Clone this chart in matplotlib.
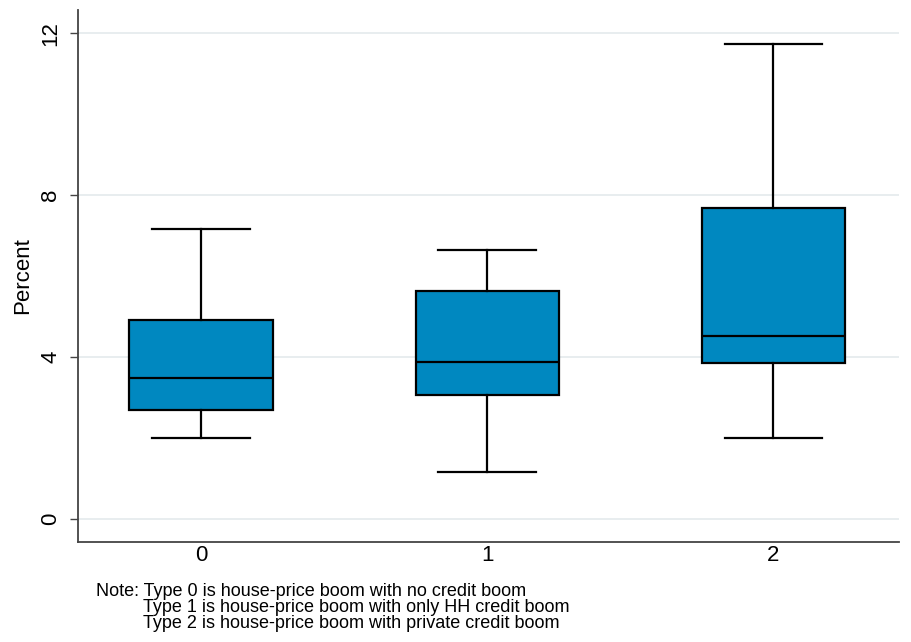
import matplotlib.pyplot as plt

plt.rcParams['font.family'] = ['Liberation Sans', 'DejaVu Sans']

# box statistics per boom type (percent)
types = ['0', '1', '2']
whislo = [2.01, 1.15, 1.99]
q1 = [2.69, 3.06, 3.84]
med = [3.48, 3.88, 4.52]
q3 = [4.91, 5.64, 7.67]
whishi = [7.16, 6.64, 11.73]
y_ticks = [0, 4, 8, 12]
note_lines = [
    "Note: Type 0 is house-price boom with no credit boom",
    "Type 1 is house-price boom with only HH credit boom",
    "Type 2 is house-price boom with private credit boom",
]

stats = []
for i, t in enumerate(types):
    stats.append({'label': t, 'whislo': whislo[i], 'q1': q1[i], 'med': med[i],
                  'q3': q3[i], 'whishi': whishi[i], 'fliers': []})

fig = plt.figure(figsize=(9.11, 6.42), dpi=100)
ax = fig.add_axes([78 / 911, 1 - 542 / 642, (899 - 78) / 911, (542 - 10) / 642])

ax.bxp(stats, positions=range(len(types)), widths=0.5, patch_artist=True,
       boxprops=dict(facecolor='#0088C0', edgecolor='black', linewidth=1.6),
       medianprops=dict(color='black', linewidth=1.6),
       whiskerprops=dict(color='black', linewidth=1.6),
       capprops=dict(color='black', linewidth=1.6),
       capwidths=0.34, showfliers=False)

ax.set_xlim(-0.43, 2.44)
ax.set_ylim(-0.57, 12.57)
ax.set_yticks(y_ticks)
ax.set_yticklabels([str(v) for v in y_ticks], rotation=90, va='center', fontsize=16)
ax.set_xticks(range(len(types)))
ax.set_xticklabels(types, fontsize=16)
ax.tick_params(axis='x', length=0, pad=2)
ax.tick_params(axis='y', length=6, width=1, color='#444444', pad=6)
ax.set_ylabel("Percent", fontsize=16, labelpad=5)

ax.grid(axis='y', color='#E4EAEC', linewidth=1.2)
ax.set_axisbelow(True)
for side in ['top', 'right']:
    ax.spines[side].set_visible(False)
for side in ['left', 'bottom']:
    ax.spines[side].set_color('#444444')
    ax.spines[side].set_linewidth(1.3)

fig.text(96 / 911, 1 - 592 / 642, note_lines[0], fontsize=13, va='center')
fig.text(143 / 911, 1 - 608 / 642, note_lines[1], fontsize=13, va='center')
fig.text(143 / 911, 1 - 624 / 642, note_lines[2], fontsize=13, va='center')

fig.savefig("out.png", dpi=100)
